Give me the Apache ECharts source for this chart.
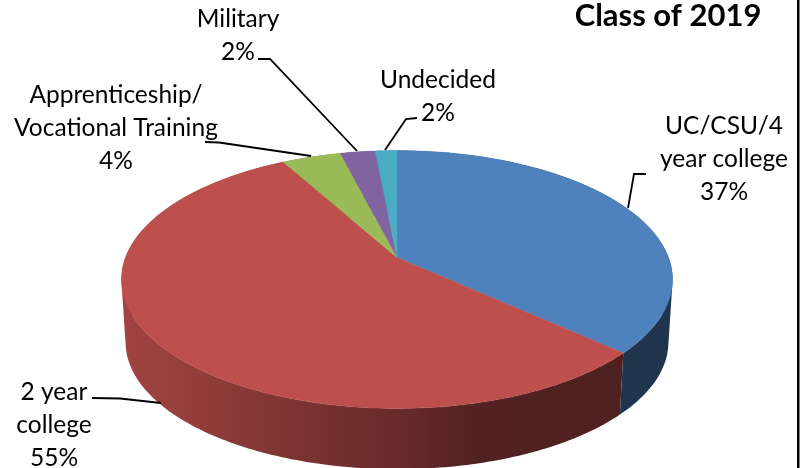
<!DOCTYPE html>
<html>
<head>
<meta charset="utf-8">
<title>Class of 2019</title>
<script src="https://cdn.jsdelivr.net/npm/echarts@6/dist/echarts.min.js"></script>
<style>
    html, body { margin: 0; padding: 0; background: #fff; }
    #chart { width: 807px; height: 468px; }
</style>
</head>
<body>
<div id="chart"></div>
<script>
// 数据
const titleText = 'Class of 2019';
const categories = ['UC/CSU/4\nyear college', '2 year\ncollege', 'Apprenticeship/\nVocational Training', 'Military', 'Undecided'];
const values = [36.8, 55.2, 4.1, 2.4, 1.5];

// 样式
const faceColors = ['#4f81bd', '#bd4f4c', '#9bbb59', '#8064a2', '#4bacc6'];
const wallShade = [[121, 0.85], [200, 0.77], [300, 0.65], [397, 0.55], [480, 0.43], [672, 0.41]];
const fontFamily = 'Lato, "Open Sans", sans-serif';

// 透视投影参数 (把单位圆投到画面上)
const view = { cx: 397, cy: 257.5, a: 271.5, b: 125.2, k: 0.1705, depth: 63, shrink: 0.985 };

// 标签位置和引导线
const labelCenters = [[724, 125], [54, 391], [116, 94], [238, 18], [438, 79]];
const leaderLines = [
    [[646, 174], [634, 174], [628, 208]],
    [[92, 398], [120, 398.5], [161, 403]],
    [[205, 142], [219, 142.5], [311, 156]],
    [[258, 59], [270, 59], [357, 151]],
    [[417, 118], [406, 119], [385, 150]]
];

const total = values.reduce((s, v) => s + v, 0);

// 角度从正上方开始顺时针
function project(angle, lower) {
    const u = Math.sin(angle);
    const v = -Math.cos(angle);
    const den = 1 - view.k * v;
    const s = lower ? view.shrink : 1;
    return [
        view.cx + s * view.a * u / den,
        view.cy + (lower ? view.depth : 0) + s * view.b * v / den
    ];
}

function sliceRange(index) {
    let before = 0;
    for (let i = 0; i < index; i++) before += values[i];
    return [before / total * Math.PI * 2, (before + values[index]) / total * Math.PI * 2];
}

function rimAngles(range) {
    const steps = Math.max(2, Math.ceil((range[1] - range[0]) / (Math.PI / 180)));
    const list = [];
    for (let i = 0; i <= steps; i++) {
        list.push(range[0] + (range[1] - range[0]) * i / steps);
    }
    return list;
}

function darken(hex, f) {
    const n = parseInt(hex.slice(1), 16);
    const c = [(n >> 16) & 255, (n >> 8) & 255, n & 255].map(x => Math.round(x * f));
    return `rgb(${c[0]},${c[1]},${c[2]})`;
}

// 一个四边形的路径,统一方向,这样重叠的地方不会被抵消
function quadPath(p) {
    let area = 0;
    for (let i = 0; i < 4; i++) {
        const q = p[(i + 1) % 4];
        area += p[i][0] * q[1] - q[0] * p[i][1];
    }
    const pts = area < 0 ? p.slice().reverse() : p;
    return 'M' + pts.map(q => q[0].toFixed(2) + ' ' + q[1].toFixed(2)).join('L') + 'Z';
}

// 侧面
function renderWall(params) {
    const angles = rimAngles(sliceRange(params.dataIndex));
    const base = faceColors[params.dataIndex];
    const x0 = wallShade[0][0];
    const x1 = wallShade[wallShade.length - 1][0];
    const fill = new echarts.graphic.LinearGradient(x0, 0, x1, 0, wallShade.map(s => ({
        offset: (s[0] - x0) / (x1 - x0),
        color: darken(base, s[1])
    })), true);
    let pathData = '';
    for (let i = 0; i < angles.length - 1; i++) {
        pathData += quadPath([project(angles[i], false), project(angles[i + 1], false), project(angles[i + 1], true), project(angles[i], true)]);
    }
    return { type: 'path', shape: { pathData: pathData }, style: { fill: fill } };
}

// 顶面
function renderFace(params) {
    const points = [[view.cx, view.cy]].concat(rimAngles(sliceRange(params.dataIndex)).map(a => project(a, false)));
    const color = faceColors[params.dataIndex];
    return {
        type: 'polygon',
        shape: { points: points },
        style: { fill: color, stroke: color, lineWidth: 0.4 }
    };
}

function buildGraphics() {
    const items = [];
    categories.forEach((name, i) => {
        const lines = name.split('\n').concat(Math.round(values[i]) + '%');
        items.push({
            type: 'text',
            x: labelCenters[i][0],
            y: labelCenters[i][1] - 15.5,
            z: 10,
            style: {
                text: lines.join('\n'),
                fill: '#000',
                font: '24.5px ' + fontFamily,
                lineHeight: 33,
                align: 'center',
                verticalAlign: 'top'
            }
        });
        items.push({
            type: 'polyline',
            z: 11,
            shape: { points: leaderLines[i] },
            style: { stroke: '#000', lineWidth: 1.8, fill: null }
        });
    });
    items.push({
        type: 'text',
        x: 668,
        y: 0,
        z: 10,
        style: { text: titleText, fill: '#000', font: 'bold 31px ' + fontFamily, align: 'center', verticalAlign: 'top' }
    });
    // 右边的黑色竖线
    items.push({
        type: 'rect',
        z: 10,
        shape: { x: 797, y: 0, width: 2.5, height: 468 },
        style: { fill: '#000' }
    });
    return items;
}

const chart = echarts.init(document.getElementById('chart'));
const seriesData = categories.map((name, i) => ({ name: name, value: [values[i]] }));
chart.setOption({
    animation: false,
    backgroundColor: '#fff',
    graphic: buildGraphics(),
    series: [
        { type: 'custom', coordinateSystem: 'none', silent: true, z: 1, data: seriesData, renderItem: renderWall },
        { type: 'custom', coordinateSystem: 'none', silent: true, z: 2, data: seriesData, renderItem: renderFace }
    ]
});
</script>
</body>
</html>
